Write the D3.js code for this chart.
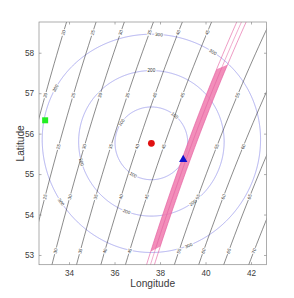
<!DOCTYPE html>
<html>
<head>
<meta charset="utf-8">
<script src="https://cdn.jsdelivr.net/npm/d3@7"></script>
<style>
  body { margin: 0; background: #fff; }
  svg { display: block; font-family: "Liberation Sans", Arial, sans-serif; }
</style>
</head>
<body>
<div id="chart"></div>
<script>
// ---- data ----
const xTicks = [34, 36, 38, 40, 42];
const yTicks = [53, 54, 55, 56, 57, 58];
const lonDomain = [32.68, 42.68];
const latDomain = [52.76, 58.76];

const centerSite = [37.62, 55.76];   // red dot
const greenSite = [32.95, 56.33];    // green square
const blueSite = [39.02, 55.36];     // blue triangle

const ringKm = [100, 200, 300];
// compass bearings (deg) where the ring labels sit
const ringLabelBearings = [[40, 210, 305], [0, 145, 200, 255], [4, 34, 160, 237, 300]];

// black contours: far origin + longitude where each one meets the bottom edge
const farSite = [110.7, -8.8];
const lineLon = [28.75, 29.95, 31.1, 32.2, 33.25, 34.33, 35.4, 36.48, 37.56, 38.63, 39.7, 40.8, 41.9];
const lineLabel = ["10", "15", "20", "25", "30", "35", "40", "45", "50", "55", "60", "65", "70"];
const labelLats = [58.5, 56.95, 55.68, 54.44, 53.1];

// pink band (measured line with its error band)
const bandLon = 37.58;
const bandHalfKm = 11;
const bandLat = [53.08, 57.77];

// ---- layout ----
const W = 294, H = 298;
const plot = { left: 39, right: 266.5, top: 22, bottom: 264.7 };
const x = d3.scaleLinear().domain(lonDomain).range([plot.left, plot.right]);
const y = d3.scaleLinear().domain(latDomain).range([plot.bottom, plot.top]);
const R = 6371;

const svg = d3.select("#chart").append("svg").attr("width", W).attr("height", H);
svg.append("defs").append("clipPath").attr("id", "clip")
  .append("rect").attr("x", plot.left).attr("y", plot.top)
  .attr("width", plot.right - plot.left).attr("height", plot.bottom - plot.top);

const g = svg.append("g").attr("clip-path", "url(#clip)");

function ring(c, deg) {
  return d3.geoCircle().center(c).radius(deg).precision(0.2)().coordinates[0];
}
const inView = p => p[0] > 30.5 && p[0] < 45 && p[1] > 52 && p[1] < 59.6;
const geoLine = d3.line().defined(inView).x(p => x(p[0])).y(p => y(p[1]));

function pointAtLat(coords, lat) {
  for (let i = 1; i < coords.length; i++) {
    const a = coords[i - 1], b = coords[i];
    if (!inView(a) || !inView(b)) continue;
    if ((a[1] - lat) * (b[1] - lat) <= 0 && a[1] !== b[1]) {
      const t = (lat - a[1]) / (b[1] - a[1]);
      const px = x(a[0] + t * (b[0] - a[0])), py = y(lat);
      let ang = Math.atan2(y(b[1]) - y(a[1]), x(b[0]) - x(a[0])) * 180 / Math.PI;
      if (ang > 90) ang -= 180;
      if (ang < -90) ang += 180;
      return { px, py, ang };
    }
  }
  return null;
}

const toDeg = 180 / Math.PI;
const bottomDist = lon => d3.geoDistance(farSite, [lon, latDomain[0]]) * toDeg;

// ---- range rings ----
ringKm.forEach((km, i) => {
  const coords = ring(centerSite, km / R * toDeg);
  g.append("path").attr("d", geoLine(coords.concat([coords[0]])))
    .attr("fill", "none").attr("stroke", "#8c8ce8").attr("stroke-width", 0.7);
  const pts = coords.map(p => [x(p[0]), y(p[1])]);
  const cx = x(centerSite[0]), cy = y(centerSite[1]);
  ringLabelBearings[i].forEach(b => {
    let best = 0, bestD = 1e9;
    pts.forEach((p, j) => {
      const brg = (Math.atan2(p[0] - cx, cy - p[1]) * toDeg + 360) % 360;
      const d = Math.min(Math.abs(brg - b), 360 - Math.abs(brg - b));
      if (d < bestD) { bestD = d; best = j; }
    });
    const p0 = pts[(best - 1 + pts.length) % pts.length], p1 = pts[(best + 1) % pts.length];
    let ang = Math.atan2(p1[1] - p0[1], p1[0] - p0[0]) * toDeg;
    if (ang > 90) ang -= 180;
    if (ang < -90) ang += 180;
    g.append("text").attr("transform", `translate(${pts[best][0]},${pts[best][1]}) rotate(${ang})`)
      .attr("text-anchor", "middle").attr("dy", "0.35em")
      .attr("font-size", 4.6).attr("fill", "#333")
      .attr("stroke", "#fff").attr("stroke-width", 2).attr("paint-order", "stroke")
      .text(km);
  });
});

// ---- black contours ----
lineLon.forEach((lon, i) => {
  if (Math.abs(lon - bandLon) < 0.05) return;
  const coords = ring(farSite, bottomDist(lon));
  g.append("path").attr("d", geoLine(coords))
    .attr("fill", "none").attr("stroke", "#2a2a2a").attr("stroke-width", 0.55);
  labelLats.forEach(lat => {
    const p = pointAtLat(coords, lat);
    if (!p || p.px < plot.left + 4 || p.px > plot.right - 4) return;
    g.append("text").attr("transform", `translate(${p.px},${p.py}) rotate(${p.ang})`)
      .attr("text-anchor", "middle").attr("dy", "0.35em")
      .attr("font-size", 4.6).attr("fill", "#333")
      .attr("stroke", "#fff").attr("stroke-width", 2).attr("paint-order", "stroke")
      .text(lineLabel[i]);
  });
});

// ---- pink band ----
const bandDeg = bottomDist(bandLon);
const dh = bandHalfKm / R * toDeg;
const inBand = p => inView(p) && p[1] >= bandLat[0] && p[1] <= bandLat[1];
const inner = ring(farSite, bandDeg - dh).filter(inBand);
const outer = ring(farSite, bandDeg + dh).filter(inBand);
g.append("path")
  .attr("d", d3.line().x(p => x(p[0])).y(p => y(p[1]))(inner.concat(outer.slice().reverse())) + "Z")
  .attr("fill", "#f07aae").attr("fill-opacity", 0.85).attr("stroke", "none");
[bandDeg - dh, bandDeg, bandDeg + dh].forEach((r, k) => {
  g.append("path").attr("d", geoLine(ring(farSite, r)))
    .attr("fill", "none").attr("stroke", "#e2589c")
    .attr("stroke-width", k === 1 ? 0.5 : 0.6);
});

// ---- axes (MATLAB style box, inward ticks) ----
const axisStyle = sel => {
  sel.select(".domain").remove();
  sel.selectAll("line").attr("stroke", "#777").attr("stroke-width", 0.6);
  sel.selectAll("text").attr("fill", "#3a3a3a").attr("font-size", 8.2)
    .attr("font-family", "'Liberation Sans', Arial, sans-serif");
};
svg.append("g").attr("transform", `translate(0,${plot.bottom})`)
  .call(d3.axisBottom(x).tickValues(xTicks).tickSize(-2.5).tickPadding(5).tickFormat(d3.format("d"))).call(axisStyle);
svg.append("g").attr("transform", `translate(0,${plot.top})`)
  .call(d3.axisTop(x).tickValues(xTicks).tickSize(-2.5).tickFormat("")).call(axisStyle);
svg.append("g").attr("transform", `translate(${plot.left},0)`)
  .call(d3.axisLeft(y).tickValues(yTicks).tickSize(-2.5).tickPadding(5).tickFormat(d3.format("d"))).call(axisStyle);
svg.append("g").attr("transform", `translate(${plot.right},0)`)
  .call(d3.axisRight(y).tickValues(yTicks).tickSize(-2.5).tickFormat("")).call(axisStyle);
svg.append("rect").attr("x", plot.left).attr("y", plot.top)
  .attr("width", plot.right - plot.left).attr("height", plot.bottom - plot.top)
  .attr("fill", "none").attr("stroke", "#8a8a8a").attr("stroke-width", 0.7);

svg.append("text").attr("x", (plot.left + plot.right) / 2).attr("y", 287)
  .attr("text-anchor", "middle").attr("font-size", 10.2).attr("fill", "#3a3a3a")
  .text("Longitude");
svg.append("text").attr("transform", `translate(23.5,${(plot.top + plot.bottom) / 2}) rotate(-90)`)
  .attr("text-anchor", "middle").attr("font-size", 10.2).attr("fill", "#3a3a3a")
  .text("Latitude");

// ---- sites ----
svg.append("rect").attr("x", x(greenSite[0]) - 3).attr("y", y(greenSite[1]) - 3)
  .attr("width", 6).attr("height", 6).attr("fill", "#22ee22");
svg.append("circle").attr("cx", x(centerSite[0])).attr("cy", y(centerSite[1]))
  .attr("r", 3.4).attr("fill", "#e01010");
svg.append("path")
  .attr("d", d3.symbol().type(d3.symbolTriangle).size(30)())
  .attr("transform", `translate(${x(blueSite[0])},${y(blueSite[1])})`)
  .attr("fill", "#1010d0");
</script>
</body>
</html>
